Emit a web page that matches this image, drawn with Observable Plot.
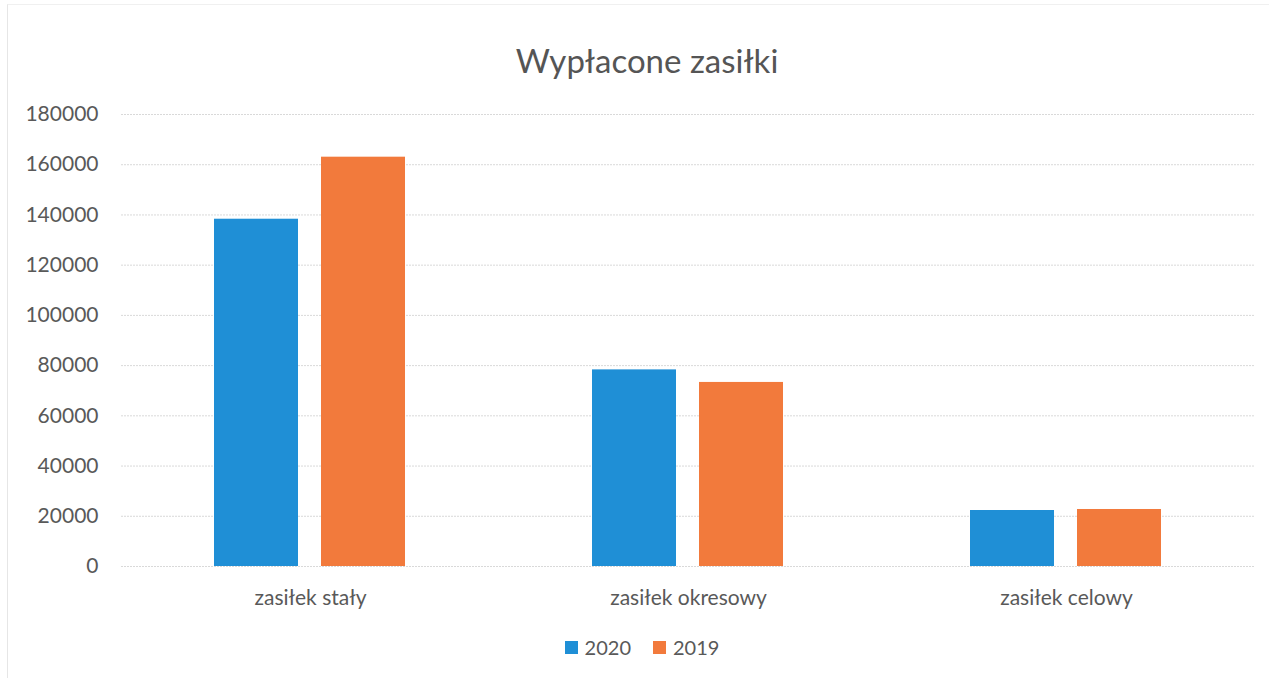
<!DOCTYPE html>
<html><head><meta charset="utf-8">
<script src="https://cdn.jsdelivr.net/npm/d3@7"></script>
<script src="https://cdn.jsdelivr.net/npm/@observablehq/plot@0.6"></script>
<style>
body{margin:0;background:#fff;font-family:Lato,"Open Sans",sans-serif;}
#wrap{position:relative;width:1274px;height:682px;overflow:hidden;}
#frame{position:absolute;left:7px;top:4px;width:1262px;height:674px;border-left:1px solid #e6e6e6;border-top:1px solid #f0f0f0;box-sizing:border-box;pointer-events:none;}
#title{height:90px;line-height:120px;text-align:center;font-size:33px;color:#555;padding-left:20px;}
#legend{display:flex;justify-content:center;gap:22px;font-size:20px;color:#595959;margin-top:10px;padding-left:10px;}
#legend span.i{display:flex;align-items:center;gap:7px;}
#legend span.s{width:13px;height:13px;display:inline-block;}
</style></head>
<body><div id="wrap"><div id="frame"></div><div id="title">Wypłacone zasiłki</div><div id="chart"></div><div id="legend"></div></div>
<script>
const categories = ["zasiłek stały", "zasiłek okresowy", "zasiłek celowy"];
const series = ["2020", "2019"];
const values2020 = [138300, 78300, 22300];
const values2019 = [163000, 73300, 22700];
const yTicks = [0, 20000, 40000, 60000, 80000, 100000, 120000, 140000, 160000, 180000];
const colors = ["#1f8fd6", "#f27a3c"];

const data = [];
categories.forEach((c, i) => {
  data.push({cat: c, year: series[0], value: values2020[i]});
  data.push({cat: c, year: series[1], value: values2019[i]});
});

const chart = Plot.plot({
  width: 1274,
  height: 535,
  marginTop: 24,
  marginBottom: 59,
  marginLeft: 120,
  marginRight: 18,
  style: {fontFamily: "Lato, 'Open Sans', sans-serif", color: "#595959", background: "transparent"},
  fx: {domain: categories, padding: 0, label: null, axis: null},
  x: {domain: series, paddingInner: 0.213, paddingOuter: 0.861, axis: null},
  y: {domain: [0, 180000], ticks: yTicks, label: null},
  color: {domain: series, range: colors},
  marks: [
    Plot.gridY(yTicks, {stroke: "#d9d9d9", strokeOpacity: 1, strokeDasharray: "2,1"}),
    Plot.barY(data, {fx: "cat", x: "year", y: "value", fill: "year"}),
    Plot.axisY(yTicks, {tickSize: 0, tickPadding: 23, fontSize: 21, tickFormat: d => String(d), label: null, fill: "#595959"}),
    Plot.axisFx({anchor: "bottom", tickSize: 0, tickPadding: 24, fontSize: 21, label: null, fill: "#595959"})
  ]
});
document.getElementById("chart").appendChild(chart);

const leg = document.getElementById("legend");
series.forEach((s, i) => {
  const it = document.createElement("span");
  it.className = "i";
  it.innerHTML = `<span class="s" style="background:${colors[i]}"></span>${s}`;
  leg.appendChild(it);
});
</script></body></html>
